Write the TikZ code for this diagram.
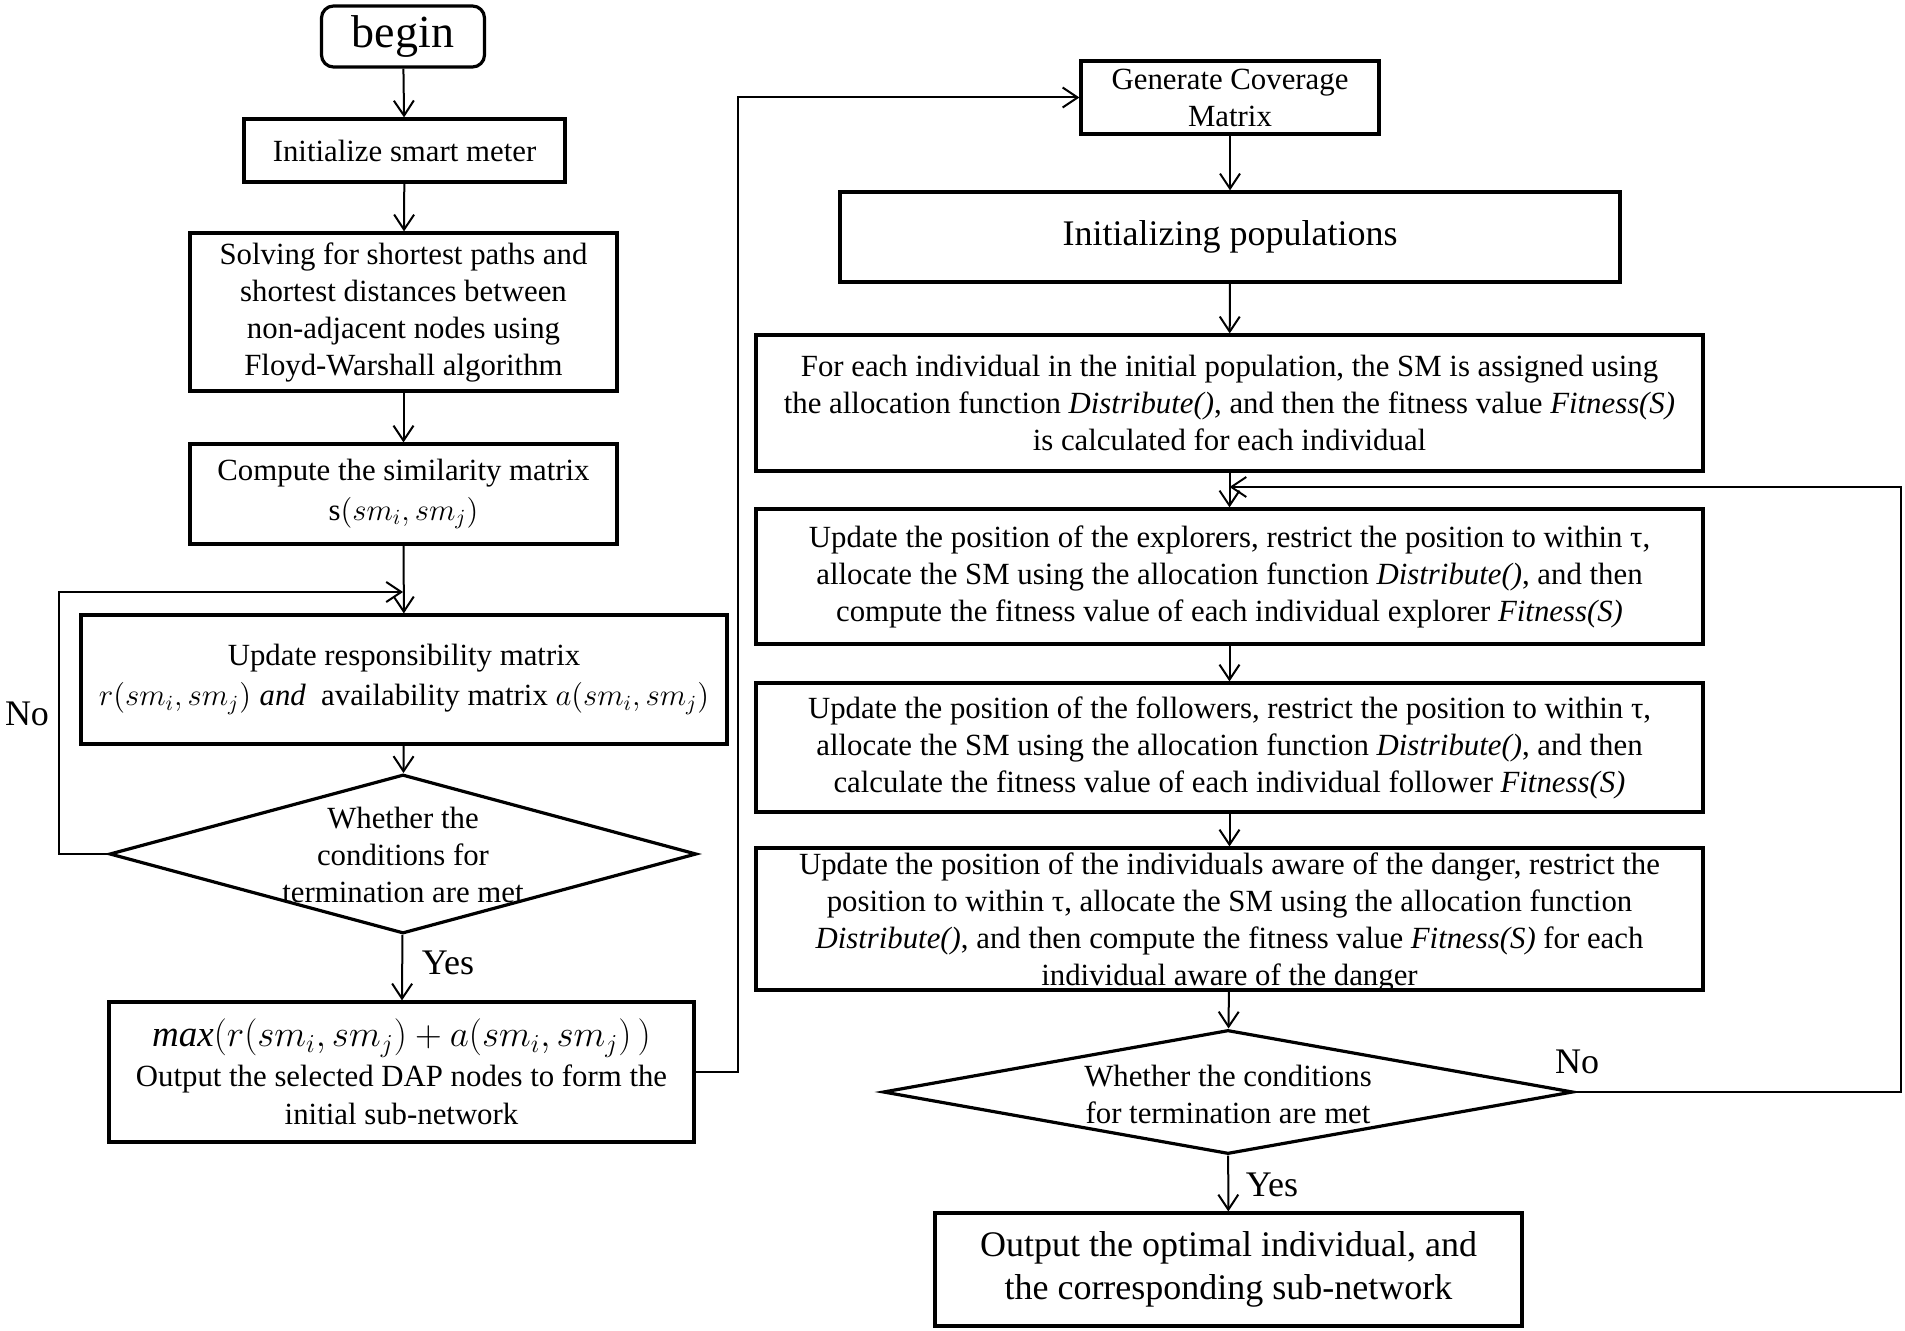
\RequirePackage{fix-cm}
\documentclass[tikz,border=0pt]{standalone}
\usepackage{fontspec}
\setmainfont{Liberation Serif}
\usetikzlibrary{arrows.meta,shapes.geometric}
\begin{document}
\begin{tikzpicture}[x=0.5pt,y=-0.5pt,
  box/.style={draw, line width=1.6pt, inner sep=0pt, align=center, font=\fontsize{15.4}{18.5}\selectfont},
  dia/.style={draw, diamond, line width=1.6pt, inner sep=0pt},
  txt/.style={inner sep=0pt, align=center, font=\fontsize{15.4}{18.5}\selectfont},
  arr/.style={-{Straight Barb[length=7.5pt,width=10pt,line width=1pt]}, line width=1pt},
  lbl/.style={inner sep=0pt, font=\fontsize{18}{21}\selectfont}
]
\useasboundingbox (0,0) rectangle (1905,1331);

% left column
\node[box, rounded corners=6pt, minimum width=81.5pt, minimum height=30.5pt, font=\fontsize{23}{26}\selectfont] (begin) at (403,36.5) {begin};
\node[box, minimum width=160.5pt, minimum height=31.5pt] (init) at (404.5,150.5) {Initialize smart meter};
\node[box, minimum width=213.5pt, minimum height=79pt] (solve) at (403.5,312) {Solving for shortest paths and\\shortest distances between\\non-adjacent nodes using\\Floyd-Warshall algorithm};
\node[box, minimum width=213.5pt, minimum height=50pt, font=\fontsize{15.4}{20}\selectfont] (sim) at (403.5,494) {Compute the similarity matrix\\$\mathrm{s}\bigl(sm_i,sm_j\bigr)$};
\node[box, minimum width=323pt, minimum height=64.5pt, font=\fontsize{15.4}{20}\selectfont] (upd) at (404,679.5) {Update responsibility matrix\\$r\bigl(sm_i,sm_j\bigr)\;\mathit{and}$\ \ availability matrix $a\bigl(sm_i,sm_j\bigr)$};
\node[dia, minimum width=293.5pt, minimum height=79.5pt] (dia1) at (403,854) {};
\node[txt] (dia1t) at (403,855) {Whether the\\conditions for\\termination are met};
\node[box, minimum width=292.5pt, minimum height=70pt, font=\fontsize{15.4}{19}\selectfont] (max) at (401.5,1072) {{\fontsize{18.5}{20}\selectfont$\mathit{max}\Bigl(r\bigl(sm_i,sm_j\bigr)+a\bigl(sm_i,sm_j\bigr)\,\Bigr)$}\\[1pt]Output the selected DAP nodes to form the\\initial sub-network};

% right column
\node[box, minimum width=149pt, minimum height=36.5pt] (gen) at (1230,97.5) {Generate Coverage\\Matrix};
\node[box, minimum width=390pt, minimum height=45pt, font=\fontsize{18}{21}\selectfont] (pop) at (1230,237) {\raisebox{-2pt}{Initializing populations}};
\node[box, minimum width=473.5pt, minimum height=68pt] (each) at (1229.5,403) {For each individual in the initial population, the SM is assigned using\\the allocation function \textit{Distribute()}, and then the fitness value \textit{Fitness(S)}\\is calculated for each individual};
\node[box, minimum width=473.5pt, minimum height=67.5pt] (expl) at (1229.5,576.5) {Update the position of the explorers, restrict the position to within τ,\\allocate the SM using the allocation function \textit{Distribute()}, and then\\compute the fitness value of each individual explorer \textit{Fitness(S)}};
\node[box, minimum width=473.5pt, minimum height=64.5pt] (foll) at (1229.5,747.5) {Update the position of the followers, restrict the position to within τ,\\allocate the SM using the allocation function \textit{Distribute()}, and then\\calculate the fitness value of each individual follower \textit{Fitness(S)}};
\node[box, minimum width=473.5pt, minimum height=71pt] (dang) at (1229.5,919) {};
\node[txt] (dangt) at (1229.5,922) {Update the position of the individuals aware of the danger, restrict the\\position to within τ, allocate the SM using the allocation function\\\textit{Distribute()}, and then compute the fitness value \textit{Fitness(S)} for each\\individual aware of the danger};
\node[dia, minimum width=345pt, minimum height=62pt] (dia2) at (1228,1092) {};
\node[txt] (dia2t) at (1228,1094) {Whether the conditions\\for termination are met};
\node[box, minimum width=293.5pt, minimum height=56.5pt, font=\fontsize{18}{21.5}\selectfont] (out) at (1228.5,1269.5) {Output the optimal individual, and\\the corresponding sub-network};

% labels
\node[lbl] (no1) at (27,714) {No};
\node[lbl] (yes1) at (448,963) {Yes};
\node[lbl] (no2) at (1577,1062) {No};
\node[lbl] (yes2) at (1272,1185) {Yes};

% junctions
\coordinate (j1) at (403,592);
\coordinate (j2) at (1229.5,487);

% connectors left
\draw[arr] (begin) -- (init);
\draw[arr] (init) -- (solve);
\draw[arr] (solve) -- (sim);
\draw[arr] (sim) -- (upd);
\draw[arr] (upd) -- (dia1);
\draw[arr] (dia1) -- (max);
\draw[arr] (dia1.west) -- ++(-49,0) |- (j1);
\draw[arr] (max.east) -- ++(42,0) |- (gen.west);

% connectors right
\draw[arr] (gen) -- (pop);
\draw[arr] (pop) -- (each);
\draw[arr] (each) -- (expl);
\draw[arr] (expl) -- (foll);
\draw[arr] (foll) -- (dang);
\draw[arr] (dang) -- (dia2);
\draw[arr] (dia2) -- (out);
\draw[arr] (dia2.east) -- ++(326,0) |- (j2);
\end{tikzpicture}
\end{document}
